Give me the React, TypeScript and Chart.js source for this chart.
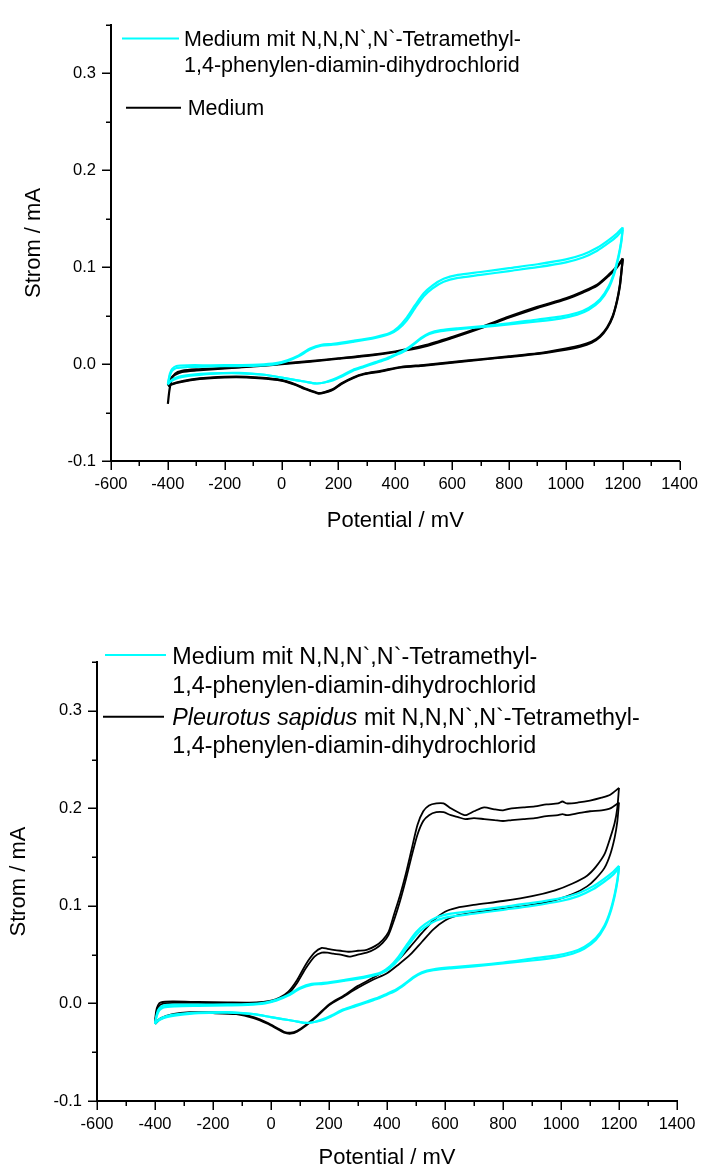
import React, { useEffect, useRef } from 'react';
import { Chart, registerables } from 'chart.js';

Chart.register(...registerables);

const FONT = '"Liberation Sans", Arial, Helvetica, sans-serif';
const CYAN = '#00FFFF';
const BLACK = '#000000';

// ---------- axis ticks ----------
const X_MIN = -600;
const X_MAX = 1400;
const X_STEP = 100;
const Y_MIN = -0.1;
const Y_MAX = 0.35;
const Y_STEP = 0.05;

// ---------- Medium mit TMPD (cyan, same measurement in both plots) ----------
const cyanFwdE = [-400, -393, -385, -370, -330, -250, -150, -80, -20, 20, 60, 100, 140, 180, 250, 330, 380, 410, 440, 470, 500, 530, 570, 620, 700, 800, 900, 1000, 1060, 1110, 1150, 1180, 1200];
const cyanFwdI1 = [-0.021, -0.010, -0.005, -0.002, -0.0012, -0.0012, -0.001, -0.0006, 0.001, 0.004, 0.009, 0.016, 0.020, 0.021, 0.024, 0.028, 0.032, 0.038, 0.048, 0.061, 0.073, 0.081, 0.088, 0.092, 0.095, 0.099, 0.103, 0.108, 0.113, 0.120, 0.128, 0.135, 0.141];
const cyanFwdI2 = [-0.020, -0.012, -0.007, -0.004, -0.003, -0.0025, -0.002, -0.0015, 0.0, 0.003, 0.008, 0.015, 0.019, 0.020, 0.023, 0.027, 0.031, 0.036, 0.045, 0.058, 0.070, 0.078, 0.085, 0.089, 0.092, 0.096, 0.100, 0.105, 0.110, 0.117, 0.125, 0.132, 0.139];
const cyanRevE = [1200, 1195, 1185, 1170, 1150, 1120, 1080, 1040, 980, 900, 800, 700, 620, 560, 520, 490, 460, 430, 400, 370, 330, 290, 250, 210, 180, 150, 120, 80, 40, 0, -60, -150, -250, -320, -360, -385, -400];
const cyanRevI1 = [0.141, 0.128, 0.112, 0.095, 0.080, 0.067, 0.058, 0.053, 0.049, 0.046, 0.042, 0.039, 0.037, 0.035, 0.032, 0.027, 0.020, 0.014, 0.010, 0.006, 0.002, -0.002, -0.006, -0.012, -0.016, -0.019, -0.020, -0.018, -0.016, -0.014, -0.011, -0.009, -0.0095, -0.011, -0.013, -0.016, -0.021];
const cyanRevI2 = [0.139, 0.126, 0.110, 0.093, 0.078, 0.065, 0.056, 0.051, 0.047, 0.044, 0.041, 0.038, 0.036, 0.034, 0.031, 0.026, 0.019, 0.013, 0.009, 0.005, 0.001, -0.003, -0.007, -0.013, -0.017, -0.019, -0.020, -0.018, -0.016, -0.014, -0.011, -0.0095, -0.010, -0.012, -0.014, -0.017, -0.020];

// ---------- Medium (black, plot 1) ----------
const medFwdE = [-400, -395, -388, -375, -350, -300, -200, -100, 0, 100, 200, 300, 400, 500, 600, 700, 800, 900, 1000, 1060, 1110, 1150, 1180, 1200];
const medFwdI1 = [-0.041, -0.028, -0.017, -0.010, -0.007, -0.0055, -0.004, -0.002, 0.0005, 0.003, 0.006, 0.009, 0.013, 0.019, 0.028, 0.038, 0.049, 0.059, 0.068, 0.075, 0.082, 0.092, 0.101, 0.109];
const medFwdI2 = [-0.022, -0.018, -0.014, -0.011, -0.008, -0.0065, -0.0045, -0.0025, 0.0, 0.0025, 0.0055, 0.0085, 0.0125, 0.018, 0.027, 0.037, 0.048, 0.058, 0.067, 0.074, 0.081, 0.091, 0.100, 0.108];
const medRevE = [1200, 1196, 1190, 1180, 1165, 1145, 1120, 1090, 1050, 1000, 900, 800, 700, 600, 500, 420, 350, 290, 250, 210, 180, 150, 130, 110, 80, 50, 0, -80, -160, -250, -320, -370, -400];
const medRevI1 = [0.109, 0.098, 0.082, 0.066, 0.050, 0.038, 0.029, 0.023, 0.019, 0.016, 0.011, 0.008, 0.005, 0.002, -0.001, -0.003, -0.007, -0.010, -0.014, -0.020, -0.026, -0.029, -0.030, -0.028, -0.025, -0.021, -0.0165, -0.014, -0.013, -0.014, -0.016, -0.019, -0.022];
const medRevI2 = [0.108, 0.097, 0.081, 0.065, 0.049, 0.037, 0.028, 0.022, 0.018, 0.015, 0.0105, 0.0075, 0.0045, 0.0015, -0.0015, -0.0035, -0.0075, -0.0105, -0.0145, -0.0205, -0.0265, -0.0295, -0.0305, -0.0285, -0.0255, -0.0215, -0.017, -0.0145, -0.0135, -0.0145, -0.0165, -0.0195, -0.0225];

// ---------- Pleurotus sapidus mit TMPD (black, plot 2) ----------
const psFwdE = [-400, -396, -390, -380, -340, -250, -150, -50, 0, 30, 60, 90, 120, 150, 175, 195, 215, 240, 270, 300, 330, 360, 385, 405, 425, 445, 465, 485, 505, 525, 545, 570, 595, 620, 645, 670, 700, 735, 770, 800, 830, 870, 910, 950, 990, 1005, 1020, 1060, 1100, 1140, 1170, 1200];
const psFwdI1 = [-0.018, -0.008, -0.002, 0.001, 0.002, 0.0015, 0.001, 0.001, 0.003, 0.006, 0.012, 0.024, 0.040, 0.052, 0.057, 0.056, 0.055, 0.054, 0.053, 0.054, 0.055, 0.059, 0.065, 0.073, 0.092, 0.111, 0.133, 0.158, 0.183, 0.197, 0.203, 0.205, 0.205, 0.200, 0.196, 0.193, 0.197, 0.201, 0.199, 0.198, 0.200, 0.201, 0.202, 0.204, 0.205, 0.207, 0.205, 0.206, 0.208, 0.211, 0.214, 0.221];
const psFwdI2 = [-0.020, -0.012, -0.005, -0.001, 0.0005, 0.0005, 0.0, 0.0005, 0.002, 0.005, 0.010, 0.021, 0.036, 0.048, 0.052, 0.052, 0.051, 0.050, 0.048, 0.050, 0.052, 0.056, 0.062, 0.070, 0.086, 0.105, 0.127, 0.151, 0.173, 0.187, 0.193, 0.196, 0.196, 0.193, 0.191, 0.189, 0.190, 0.189, 0.188, 0.187, 0.188, 0.189, 0.190, 0.192, 0.193, 0.194, 0.193, 0.195, 0.197, 0.198, 0.200, 0.206];
const psRevE = [1200, 1194, 1185, 1170, 1150, 1120, 1090, 1040, 980, 900, 800, 700, 640, 600, 560, 520, 480, 440, 400, 350, 300, 250, 200, 160, 120, 90, 68, 45, 20, -10, -60, -120, -200, -280, -340, -380, -400];
const psRevI1 = [0.221, 0.200, 0.185, 0.170, 0.153, 0.140, 0.131, 0.123, 0.116, 0.110, 0.105, 0.101, 0.098, 0.094, 0.085, 0.072, 0.058, 0.045, 0.035, 0.026, 0.018, 0.008, -0.001, -0.012, -0.022, -0.028, -0.030, -0.029, -0.025, -0.020, -0.014, -0.010, -0.009, -0.009, -0.011, -0.015, -0.020];
const psRevI2 = [0.206, 0.186, 0.170, 0.153, 0.139, 0.128, 0.120, 0.112, 0.106, 0.101, 0.097, 0.093, 0.090, 0.085, 0.076, 0.063, 0.050, 0.040, 0.031, 0.024, 0.016, 0.007, -0.002, -0.013, -0.023, -0.029, -0.031, -0.030, -0.026, -0.021, -0.015, -0.011, -0.010, -0.010, -0.012, -0.016, -0.021];

// ---------- legend texts ----------
const TMPD_LINE1 = 'Medium mit N,N,N`,N`-Tetramethyl-';
const TMPD_LINE2 = '1,4-phenylen-diamin-dihydrochlorid';
const MEDIUM_LABEL = 'Medium';
const PS_ITALIC = 'Pleurotus sapidus';
const PS_REST = ' mit N,N,N`,N`-Tetramethyl-';

const pts = (E: number[], I: number[]) => E.map((e, i) => ({ x: e, y: I[i] }));

const isMajorX = (v: number) => Math.abs(Math.round(v) % 200) === 0;
const isMajorY = (v: number) => Math.abs(v * 10 - Math.round(v * 10)) < 1e-6;
const fmtY = (v: number) => {
  const r = Math.round(v * 10) / 10;
  return (r === 0 ? 0 : r).toFixed(1);
};

const tickPlugin = {
  id: 'originTicks',
  afterDraw(chart: any) {
    const ctx = chart.ctx;
    const xs = chart.scales.x;
    const ys = chart.scales.y;
    const area = chart.chartArea;
    ctx.save();
    ctx.strokeStyle = '#000';
    ctx.lineWidth = 1.5;
    xs.ticks.forEach((t: any) => {
      const p = Math.round(xs.getPixelForValue(t.value)) + 0.25;
      const len = isMajorX(t.value) ? 9 : 5;
      ctx.beginPath();
      ctx.moveTo(p, area.bottom);
      ctx.lineTo(p, area.bottom + len);
      ctx.stroke();
    });
    ys.ticks.forEach((t: any) => {
      const p = Math.round(ys.getPixelForValue(t.value)) + 0.25;
      const len = isMajorY(t.value) ? 9 : 5;
      ctx.beginPath();
      ctx.moveTo(area.left, p);
      ctx.lineTo(area.left - len, p);
      ctx.stroke();
    });
    ctx.restore();
  },
};

type Part = { text: string; italic?: boolean };
type Entry = { color: string; x0: number; x1: number; y: number; lines: { x: number; y: number; parts: Part[] }[] };

const makeLegendPlugin = (entries: Entry[], size: number) => ({
  id: 'customLegend',
  afterDraw(chart: any) {
    const ctx = chart.ctx;
    ctx.save();
    entries.forEach((en) => {
      ctx.strokeStyle = en.color;
      ctx.lineWidth = 2;
      ctx.beginPath();
      ctx.moveTo(en.x0, en.y);
      ctx.lineTo(en.x1, en.y);
      ctx.stroke();
      ctx.fillStyle = '#000';
      ctx.textBaseline = 'alphabetic';
      ctx.textAlign = 'left';
      en.lines.forEach((ln) => {
        let x = ln.x;
        ln.parts.forEach((p) => {
          ctx.font = `${p.italic ? 'italic ' : ''}${size}px ${FONT}`;
          ctx.fillText(p.text, x, ln.y);
          x += ctx.measureText(p.text).width;
        });
      });
    });
    ctx.restore();
  },
});

type Layout = {
  height: number;
  left: number;
  right: number;
  top: number;
  bottom: number;
  xTitlePad: number;
  yTitlePad: number;
};

const line = (data: { x: number; y: number }[], color: string, width: number, order: number) => ({
  data,
  borderColor: color,
  borderWidth: width,
  pointRadius: 0,
  tension: 0.25,
  fill: false,
  order,
});

const buildConfig = (datasets: any[], lay: Layout, legend: any): any => ({
  type: 'line',
  data: { datasets },
  options: {
    responsive: false,
    animation: false,
    events: [],
    layout: { padding: { left: 0, top: lay.top, right: 712 - lay.right, bottom: 0 } },
    plugins: { legend: { display: false }, tooltip: { enabled: false } },
    scales: {
      x: {
        type: 'linear',
        min: X_MIN,
        max: X_MAX,
        ticks: {
          stepSize: X_STEP,
          autoSkip: false,
          maxRotation: 0,
          padding: 14,
          color: '#000',
          font: { family: FONT, size: 16.5 },
          callback: (v: any) => (isMajorX(Number(v)) ? String(Math.round(Number(v))) : ''),
        },
        grid: { display: false, drawTicks: false },
        border: { display: true, color: '#000', width: 2 },
        title: {
          display: true,
          text: 'Potential / mV',
          color: '#000',
          font: { family: FONT, size: 22, lineHeight: 1 },
          padding: { top: 0, bottom: lay.xTitlePad },
        },
        afterFit: (s: any) => {
          s.height = lay.height - lay.bottom;
        },
      },
      y: {
        type: 'linear',
        min: Y_MIN,
        max: Y_MAX,
        ticks: {
          stepSize: Y_STEP,
          autoSkip: false,
          padding: 15,
          color: '#000',
          font: { family: FONT, size: 16.5 },
          callback: (v: any) => (isMajorY(Number(v)) ? fmtY(Number(v)) : ''),
        },
        grid: { display: false, drawTicks: false },
        border: { display: true, color: '#000', width: 2 },
        title: {
          display: true,
          text: 'Strom / mA',
          color: '#000',
          font: { family: FONT, size: 22, lineHeight: 1 },
          padding: { top: lay.yTitlePad, bottom: 0 },
        },
        afterFit: (s: any) => {
          s.width = lay.left;
        },
      },
    },
  },
  plugins: [tickPlugin, legend],
});

const cyanSets = (w: number, order: number) => [
  line(pts(cyanFwdE, cyanFwdI1), CYAN, w, order),
  line(pts(cyanRevE, cyanRevI1), CYAN, w, order),
  line(pts(cyanFwdE, cyanFwdI2), CYAN, w, order),
  line(pts(cyanRevE, cyanRevI2), CYAN, w, order),
];

const layout1: Layout = { height: 545, left: 111, right: 691, top: 14, bottom: 461, xTitlePad: 13, yTitlePad: 23 };
const layout2: Layout = { height: 574, left: 97, right: 677, top: 67, bottom: 506, xTitlePad: 0, yTitlePad: 8 };

const config1 = () =>
  buildConfig(
    [
      ...cyanSets(2.2, 1),
      line(pts(medFwdE, medFwdI1), BLACK, 2.2, 2),
      line(pts(medRevE, medRevI1), BLACK, 2.2, 2),
      line(pts(medFwdE, medFwdI2), BLACK, 2.2, 2),
      line(pts(medRevE, medRevI2), BLACK, 2.2, 2),
    ],
    layout1,
    makeLegendPlugin(
      [
        {
          color: CYAN,
          x0: 122,
          x1: 179,
          y: 38.5,
          lines: [
            { x: 184, y: 45.7, parts: [{ text: TMPD_LINE1 }] },
            { x: 184, y: 71.7, parts: [{ text: TMPD_LINE2 }] },
          ],
        },
        {
          color: BLACK,
          x0: 126,
          x1: 181,
          y: 107.7,
          lines: [{ x: 187.7, y: 115, parts: [{ text: MEDIUM_LABEL }] }],
        },
      ],
      21.5
    )
  );

const config2 = () =>
  buildConfig(
    [
      line(pts(psFwdE, psFwdI1), BLACK, 1.8, 2),
      line(pts(psRevE, psRevI1), BLACK, 1.8, 2),
      line(pts(psFwdE, psFwdI2), BLACK, 1.8, 2),
      line(pts(psRevE, psRevI2), BLACK, 1.8, 2),
      ...cyanSets(2.2, 1),
    ],
    layout2,
    makeLegendPlugin(
      [
        {
          color: CYAN,
          x0: 105,
          x1: 166,
          y: 60,
          lines: [
            { x: 172.3, y: 69, parts: [{ text: TMPD_LINE1 }] },
            { x: 172.3, y: 97.7, parts: [{ text: TMPD_LINE2 }] },
          ],
        },
        {
          color: BLACK,
          x0: 103,
          x1: 164,
          y: 121.7,
          lines: [
            { x: 172.3, y: 130, parts: [{ text: PS_ITALIC, italic: true }, { text: PS_REST }] },
            { x: 172.3, y: 158.3, parts: [{ text: TMPD_LINE2 }] },
          ],
        },
      ],
      23.3
    )
  );

function CVChart({ top, height, make }: { top: number; height: number; make: () => any }) {
  const ref = useRef<HTMLCanvasElement>(null);
  useEffect(() => {
    const chart = new Chart(ref.current as HTMLCanvasElement, make());
    return () => chart.destroy();
  }, []);
  return (
    <canvas
      ref={ref}
      width={712}
      height={height}
      style={{ position: 'absolute', left: 0, top, width: 712, height }}
    />
  );
}

export default function App() {
  return (
    <div style={{ position: 'absolute', left: 0, top: 0, width: 712, height: 1169, background: '#fff', overflow: 'hidden' }}>
      <CVChart top={0} height={545} make={config1} />
      <CVChart top={595} height={574} make={config2} />
    </div>
  );
}
